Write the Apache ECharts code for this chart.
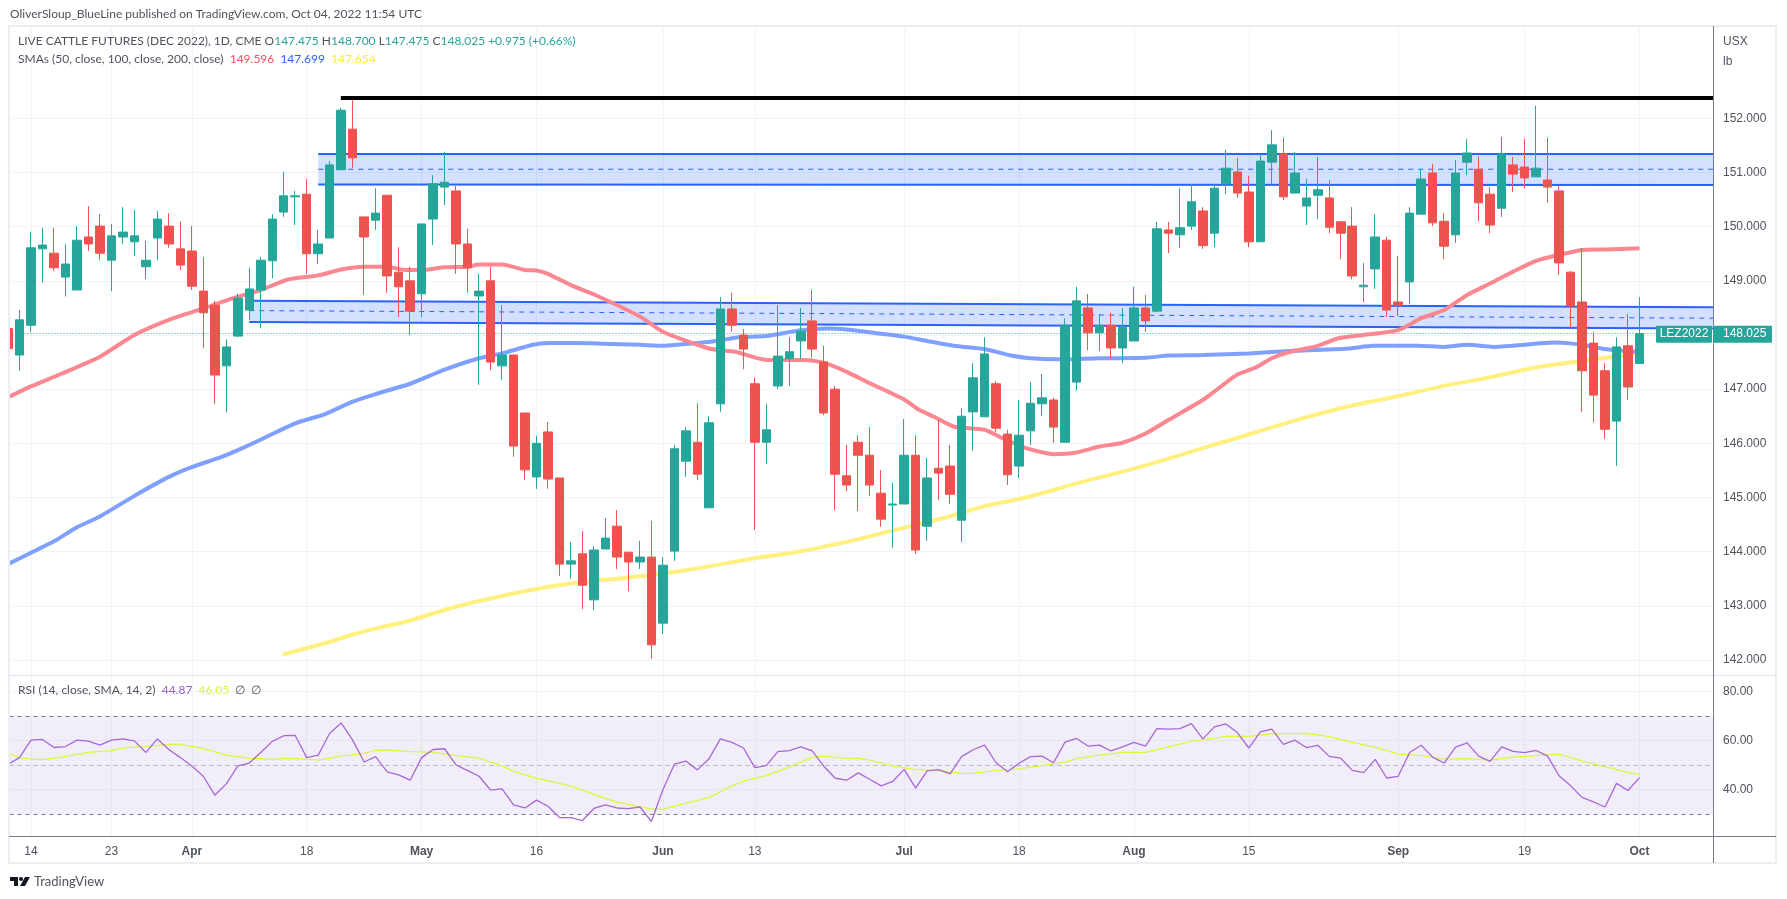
<!DOCTYPE html>
<html>
<head>
<meta charset="utf-8">
<title>LIVE CATTLE FUTURES (DEC 2022)</title>
<script src="https://cdn.jsdelivr.net/npm/echarts@6/dist/echarts.min.js"></script>
<style>
  html, body { margin: 0; padding: 0; background: #fff; }
  #chart { width: 1787px; height: 899px; }
</style>
</head>
<body>
<div id="chart"></div>
<script>
// first bar is the cut-off candle at the left edge, its x index is -1
const opens = [
  148.12, 147.63, 148.18, 149.59, 149.51, 149.07, 148.83, 149.81, 150.01, 149.38,
  149.81, 149.72, 149.26, 149.79, 150.01, 149.59, 149.55, 148.81, 148.55, 147.43,
  147.98, 148.46, 148.83, 149.37, 150.27, 150.55, 150.60, 149.50, 149.79, 151.05,
  151.80, 150.18, 150.12, 150.58, 149.16, 149.00, 148.76, 150.14, 150.73, 150.66,
  149.68, 148.72, 149.00, 147.43, 147.63, 146.56, 145.38, 146.21, 145.36, 143.77,
  143.96, 143.11, 144.05, 144.47, 143.99, 143.81, 143.90, 142.68, 144.01, 145.67,
  146.02, 144.81, 146.73, 148.48, 148.00, 147.10, 146.02, 147.06, 147.56, 147.89,
  148.26, 147.50, 147.00, 145.40, 146.02, 145.78, 145.08, 144.86, 144.88, 145.78,
  144.47, 145.54, 145.58, 144.58, 146.58, 146.49, 147.10, 146.17, 145.58, 146.23,
  146.73, 146.80, 146.02, 147.13, 148.50, 148.04, 148.18, 147.76, 147.89, 148.50,
  148.44, 149.94, 149.85, 150.01, 150.29, 149.88, 150.79, 151.01, 150.64, 149.72,
  151.19, 151.34, 150.62, 150.38, 150.58, 150.53, 150.09, 150.01, 148.89, 149.22,
  149.75, 148.61, 148.98, 150.23, 150.99, 150.10, 149.85, 151.19, 151.06, 150.60,
  150.34, 151.14, 151.10, 150.92, 150.86, 150.66, 149.16, 148.61, 147.85, 147.34,
  146.41, 147.80, 147.475
]
const closes = [
  147.75, 148.28, 149.61, 149.66, 149.24, 149.31, 149.75, 149.68, 149.51, 149.83,
  149.90, 149.83, 149.38, 150.14, 149.68, 149.29, 148.90, 148.41, 147.26, 147.78,
  148.68, 148.85, 149.38, 150.14, 150.57, 150.57, 149.50, 149.68, 151.14, 152.15,
  151.27, 149.81, 150.25, 149.09, 148.89, 148.44, 150.05, 150.79, 150.82, 149.68,
  149.24, 148.81, 147.50, 147.63, 145.95, 145.51, 146.00, 145.34, 143.77, 143.83,
  143.38, 144.03, 144.25, 143.90, 143.81, 143.90, 142.28, 143.75, 145.90, 146.23,
  145.43, 146.38, 148.48, 148.18, 147.74, 146.02, 146.25, 147.61, 147.69, 148.07,
  147.74, 146.56, 145.43, 145.23, 145.78, 145.23, 144.60, 144.88, 145.78, 144.03,
  145.36, 145.45, 145.06, 146.50, 147.21, 147.65, 146.28, 145.42, 146.15, 146.74,
  146.84, 146.30, 148.18, 148.63, 148.04, 148.18, 147.76, 148.15, 148.50, 148.26,
  149.96, 149.88, 149.98, 150.46, 149.65, 150.71, 151.08, 150.62, 149.72, 151.21,
  151.51, 150.55, 150.99, 150.53, 150.68, 149.99, 149.88, 149.09, 148.92, 149.81,
  148.46, 148.55, 150.25, 150.88, 150.07, 149.64, 150.99, 151.36, 150.44, 150.03,
  151.34, 150.97, 150.90, 151.08, 150.73, 149.33, 148.54, 147.34, 146.89, 146.26,
  147.78, 147.04, 148.025
]
const lows = [
  147.75, 147.34, 148.06, 148.97, 149.18, 148.71, 148.83, 149.55, 149.38, 148.81,
  149.68, 149.46, 149.03, 149.38, 149.61, 149.20, 148.83, 147.76, 146.73, 146.57,
  147.96, 148.28, 148.13, 149.05, 150.18, 150.03, 149.13, 149.31, 149.79, 151.05,
  151.08, 148.74, 149.94, 148.78, 148.33, 148.00, 148.33, 149.66, 150.40, 149.13,
  148.78, 147.08, 147.35, 147.17, 145.75, 145.32, 145.16, 145.16, 143.55, 143.50,
  142.94, 142.92, 144.05, 143.68, 143.27, 143.68, 142.02, 142.48, 143.83, 145.38,
  145.32, 144.81, 146.58, 148.06, 147.37, 144.40, 145.62, 147.00, 147.06, 147.56,
  147.58, 146.52, 144.77, 145.12, 144.75, 145.03, 144.46, 144.07, 144.88, 143.96,
  144.20, 144.95, 144.88, 144.18, 145.86, 146.49, 146.21, 145.23, 145.36, 145.97,
  146.50, 146.01, 146.02, 146.98, 147.72, 147.70, 147.56, 147.48, 147.89, 148.06,
  148.42, 149.51, 149.61, 149.94, 149.59, 149.62, 150.60, 150.53, 149.62, 149.72,
  150.79, 150.49, 150.62, 150.03, 150.14, 149.88, 149.40, 149.03, 148.61, 148.85,
  148.33, 148.35, 148.57, 150.23, 150.01, 149.40, 149.70, 150.95, 150.10, 149.88,
  150.18, 150.64, 150.71, 150.92, 150.44, 149.11, 148.13, 146.58, 146.39, 146.08,
  145.58, 146.80, 147.475
]
const highs = [
  148.12, 148.46, 149.91, 149.98, 149.98, 149.68, 150.01, 150.38, 150.23, 150.05,
  150.36, 150.31, 149.74, 150.29, 150.25, 150.10, 150.01, 149.44, 148.63, 147.92,
  148.76, 149.24, 149.44, 150.23, 151.01, 150.66, 150.88, 149.94, 151.21, 152.19,
  152.39, 150.18, 150.71, 150.58, 149.62, 149.26, 150.05, 150.95, 151.38, 150.75,
  149.96, 149.13, 149.26, 148.55, 147.63, 146.56, 146.14, 146.39, 145.36, 144.18,
  144.38, 144.10, 144.62, 144.77, 143.99, 144.20, 144.57, 143.90, 145.97, 146.30,
  146.74, 146.50, 148.70, 148.78, 148.11, 147.21, 146.73, 148.55, 147.96, 148.50,
  148.83, 147.80, 147.06, 145.97, 146.15, 146.30, 145.51, 145.27, 146.45, 146.15,
  145.73, 146.43, 145.97, 146.65, 147.48, 147.96, 147.15, 146.25, 146.80, 147.13,
  147.28, 146.84, 148.31, 148.89, 148.76, 148.39, 148.41, 148.50, 148.89, 148.74,
  150.09, 150.09, 150.71, 150.79, 150.36, 150.79, 151.42, 151.27, 150.94, 151.34,
  151.78, 151.64, 151.38, 150.88, 151.29, 150.86, 150.10, 150.36, 149.33, 150.23,
  149.81, 149.46, 150.36, 151.06, 151.16, 150.25, 151.23, 151.62, 151.30, 150.73,
  151.66, 151.29, 151.62, 152.23, 151.64, 150.75, 149.18, 149.61, 148.06, 147.48,
  147.96, 148.39, 148.70
]

const sma50Bars = [-1, 1, 3.6, 7, 10, 13, 16, 18.6, 21, 23.3, 26, 28, 30, 32, 33.6, 35, 37, 39, 40, 42, 44, 45, 46, 48, 50.3, 54, 56, 60, 62.3, 65, 68.3, 70, 72, 74, 77, 78.3, 79.6, 81.3, 84, 85.6, 87.6, 90, 92, 94, 96, 98, 100, 103, 103.9, 106, 107.6, 109, 110.6, 113, 114.8, 117, 120, 122, 124, 126, 128, 130, 132, 134, 136, 138, 141]
const sma50Values = [146.85, 147.05, 147.28, 147.60, 148.00, 148.28, 148.49, 148.68, 148.83, 149.02, 149.10, 149.21, 149.26, 149.26, 149.20, 149.20, 149.25, 149.26, 149.30, 149.30, 149.20, 149.19, 149.13, 148.92, 148.72, 148.34, 148.06, 147.75, 147.69, 147.54, 147.54, 147.49, 147.32, 147.11, 146.81, 146.62, 146.49, 146.31, 146.25, 146.09, 145.91, 145.80, 145.83, 145.94, 146.01, 146.18, 146.43, 146.80, 146.94, 147.27, 147.40, 147.57, 147.69, 147.80, 147.94, 148.00, 148.09, 148.31, 148.46, 148.74, 148.95, 149.17, 149.37, 149.48, 149.57, 149.58, 149.60]
const sma100Bars = [-1, 1, 3, 5, 7, 10, 13, 15, 17.6, 19.6, 21.6, 24, 26.6, 29, 31, 34, 37, 40, 42, 44.7, 46, 48.4, 50.6, 54, 56, 57.3, 60.3, 62.6, 65, 68, 70.4, 72, 74, 77, 79, 81.3, 84, 86.3, 88, 90.3, 94, 98, 100, 103, 107, 111, 115.8, 117.8, 121.7, 124, 126, 128.3, 131, 133.5, 134.8, 136.5, 138, 140, 141]
const sma100Values = [143.77, 143.98, 144.19, 144.45, 144.65, 145.03, 145.38, 145.56, 145.75, 145.93, 146.13, 146.37, 146.54, 146.77, 146.91, 147.10, 147.36, 147.57, 147.66, 147.82, 147.85, 147.85, 147.84, 147.82, 147.80, 147.82, 147.88, 147.96, 147.98, 148.09, 148.12, 148.10, 148.05, 147.97, 147.89, 147.80, 147.74, 147.62, 147.57, 147.55, 147.57, 147.58, 147.62, 147.63, 147.66, 147.71, 147.75, 147.80, 147.80, 147.78, 147.82, 147.78, 147.82, 147.86, 147.85, 147.80, 147.74, 147.70, 147.69]
const sma200Bars = [22.9, 26.6, 29, 31, 34, 37.6, 40, 45, 48.3, 50.6, 55, 59, 64, 67.3, 72, 76, 80.6, 84, 87.6, 92, 97.5, 103, 106.6, 111, 115.6, 120, 124, 128, 132, 136, 141]
const sma200Values = [142.10, 142.31, 142.47, 142.58, 142.73, 142.96, 143.09, 143.31, 143.42, 143.47, 143.57, 143.69, 143.88, 143.98, 144.18, 144.39, 144.63, 144.84, 145.00, 145.26, 145.56, 145.91, 146.14, 146.42, 146.68, 146.87, 147.06, 147.22, 147.40, 147.52, 147.66]

const rsiValues = [
  50.3, 53.0, 60.1, 60.4, 57.1, 57.5, 60.1, 59.7, 58.1, 60.1,
  60.6, 59.8, 55.1, 60.6, 56.3, 53.0, 49.6, 45.4, 37.7, 42.3,
  49.6, 50.8, 55.1, 59.6, 61.9, 62.0, 53.0, 54.0, 62.9, 67.1,
  60.1, 51.2, 53.4, 47.2, 46.0, 43.8, 53.0, 56.3, 56.6, 50.0,
  47.7, 45.4, 39.8, 40.3, 33.8, 32.5, 35.7, 33.2, 28.6, 28.6,
  27.4, 32.3, 33.8, 32.5, 32.2, 32.9, 27.0, 39.9, 50.3, 51.6,
  48.0, 52.4, 60.6, 59.2, 57.0, 48.9, 49.7, 55.4, 55.8, 57.4,
  55.7, 49.5, 44.6, 43.8, 46.8, 44.2, 41.5, 43.3, 48.2, 40.6,
  47.6, 48.1, 46.4, 53.4, 56.2, 58.1, 50.9, 47.2, 50.7, 53.4,
  53.6, 50.9, 59.3, 60.8, 57.7, 58.1, 55.7, 57.4, 59.2, 57.7,
  64.8, 64.6, 64.8, 66.8, 60.6, 65.5, 66.7, 63.2, 56.9, 63.5,
  64.6, 58.4, 60.1, 57.1, 58.0, 53.5, 52.8, 47.8, 46.9, 52.3,
  44.7, 45.4, 55.1, 58.0, 53.2, 50.8, 57.3, 59.0, 53.6, 51.5,
  57.4, 55.5, 55.0, 55.9, 53.6, 45.6, 41.6, 36.8, 35.0, 32.9,
  42.5, 39.6, 44.87
]
const rsiMaBars = [-1, 0, 1, 2, 4, 6, 8, 9, 11, 13, 14, 16, 18, 20, 22, 24, 26, 28, 30, 31, 32, 34, 36, 38, 40, 42, 43, 45, 48, 50, 52, 54, 55, 56, 58, 60, 62, 63, 65, 67, 69, 70, 72, 73, 74, 76, 78, 80, 82, 83, 85, 87, 89, 91, 92, 94, 96, 98, 100, 102, 103, 105, 107, 109, 111, 112, 114, 116, 118, 120, 122, 124, 126, 128, 130, 132, 134, 136, 138, 139, 140, 141]
const rsiMaValues = [54.6, 53.1, 52.4, 52.2, 53.4, 55.1, 55.8, 57.0, 57.5, 58.4, 58.4, 56.7, 54.0, 52.7, 52.4, 52.7, 52.0, 53.6, 54.7, 55.9, 56.1, 55.4, 55.1, 53.9, 52.8, 49.6, 47.4, 44.6, 41.4, 38.0, 34.9, 33.0, 32.1, 31.9, 34.5, 36.7, 41.5, 43.4, 45.7, 49.1, 53.1, 53.6, 52.7, 52.7, 52.0, 49.5, 48.2, 47.7, 46.6, 46.6, 47.7, 48.4, 49.7, 51.2, 52.6, 54.0, 55.1, 55.1, 57.4, 59.6, 60.2, 61.6, 61.6, 62.7, 62.8, 62.8, 61.5, 59.2, 57.3, 54.4, 53.8, 52.4, 52.6, 52.0, 53.2, 53.8, 54.4, 51.6, 49.2, 48.2, 46.9, 46.2]

const tickBars = [1, 8, 15, 25, 35, 45, 56, 64, 77, 87, 97, 107, 120, 131, 141]
const tickLabels = ['14', '23', 'Apr', '18', 'May', '16', 'Jun', '13', 'Jul', '18', 'Aug', '15', 'Sep', '19', 'Oct']
const monthLabels = ['Apr', 'May', 'Jun', 'Jul', 'Aug', 'Sep', 'Oct']
const priceTicks = [142, 143, 144, 145, 146, 147, 148, 149, 150, 151, 152]
const rsiTicks = [40, 60, 80]
const rsiLevels = [70, 50, 30]

// hand drawn zones: [start bar, end bar, top, top, mid, mid, bottom, bottom]
const zoneBars = [[26, 147.4], [20, 147.4]]
const zoneTops = [[151.34, 151.34], [148.63, 148.51]]
const zoneMids = [[151.06, 151.06], [148.45, 148.31]]
const zoneBottoms = [[150.78, 150.77], [148.24, 148.12]]
const topLineBars = [27.97, 147.4]
const topLinePrice = 152.375

const lastPrice = 148.025
const symbol = 'LEZ2022'

const UP = '#26a69a'
const DOWN = '#ef5350'
const TEXT = '#50535e'
const BLUE = '#2962ff'
const FONT = 'Lato, "Liberation Sans", sans-serif'
const AXIS_FONT = '"Liberation Sans", sans-serif'
const GRID_LINE = '#f0f3fa'

const xMin = -0.87
const xMax = 147.4

function pairs(bars, values) {
  return bars.map((bar, i) => [bar, values[i]])
}

function candleData() {
  return opens.map((open, i) => [i - 1, open, closes[i], lows[i], highs[i]])
}

function renderZone(params, api) {
  const x0 = api.value(0)
  const x1 = api.value(1)
  const top0 = api.coord([x0, api.value(2)])
  const top1 = api.coord([x1, api.value(3)])
  const mid0 = api.coord([x0, api.value(4)])
  const mid1 = api.coord([x1, api.value(5)])
  const bot0 = api.coord([x0, api.value(6)])
  const bot1 = api.coord([x1, api.value(7)])
  const edge = (a, b, style) => ({
    type: 'line',
    shape: { x1: a[0], y1: a[1], x2: b[0], y2: b[1] },
    style: Object.assign({ stroke: BLUE, lineWidth: 2 }, style)
  })
  return {
    type: 'group',
    children: [
      {
        type: 'polygon',
        shape: { points: [top0, top1, bot1, bot0] },
        style: { fill: 'rgba(41, 98, 255, 0.2)' }
      },
      edge(top0, top1, {}),
      edge(bot0, bot1, {}),
      edge(mid0, mid1, { lineWidth: 1, lineDash: [5, 5] })
    ]
  }
}

function xAxisBase(gridIndex) {
  return {
    type: 'value',
    gridIndex,
    min: xMin,
    max: xMax,
    axisLine: { show: false },
    axisTick: { show: false, customValues: tickBars },
    splitLine: { show: true, lineStyle: { color: GRID_LINE, width: 1 } }
  }
}

function smaSeries(name, color, bars, values) {
  return {
    name,
    type: 'line',
    xAxisIndex: 0,
    yAxisIndex: 0,
    data: pairs(bars, values),
    showSymbol: false,
    smooth: 0.2,
    silent: true,
    z: 3,
    lineStyle: { color, width: 4, cap: 'butt' }
  }
}

function legendText(x, y, text, rich) {
  return {
    type: 'text',
    x,
    y,
    z: 100,
    style: { text, rich, font: '12px ' + FONT, fill: TEXT }
  }
}

const richBase = { fontFamily: 'Lato', fontSize: 12 }
const legendRich = {
  t: Object.assign({ fill: TEXT }, richBase),
  g: Object.assign({ fill: UP }, richBase),
  r: Object.assign({ fill: '#f7525f' }, richBase),
  b: Object.assign({ fill: BLUE }, richBase),
  y: Object.assign({ fill: '#ffeb3b' }, richBase),
  p: Object.assign({ fill: '#9c5fd0' }, richBase),
  l: Object.assign({ fill: '#d6f53a' }, richBase)
}

const chart = echarts.init(document.getElementById('chart'), null, { width: 1787, height: 899 })

chart.setOption({
  animation: false,
  backgroundColor: '#fff',
  grid: [
    { left: 9.5, top: 27, width: 1703.5, height: 648 },
    { left: 9.5, top: 676, width: 1703.5, height: 160 }
  ],
  xAxis: [
    Object.assign(xAxisBase(0), { axisLabel: { show: false, customValues: tickBars } }),
    Object.assign(xAxisBase(1), {
      axisLabel: {
        customValues: tickBars,
        margin: 10,
        color: TEXT,
        fontFamily: AXIS_FONT,
        fontSize: 12,
        formatter: (value) => {
          const label = tickLabels[tickBars.indexOf(value)]
          return monthLabels.includes(label) ? `{m|${label}}` : label
        },
        rich: { m: { fontFamily: AXIS_FONT, fontSize: 12, fontWeight: 'bold', color: TEXT } }
      }
    })
  ],
  yAxis: [
    {
      type: 'value',
      gridIndex: 0,
      position: 'right',
      min: 141.723,
      max: 153.686,
      axisLine: { show: false },
      axisTick: { show: false, customValues: priceTicks },
      splitLine: { show: true, lineStyle: { color: GRID_LINE, width: 1 } },
      axisLabel: {
        customValues: priceTicks,
        margin: 10,
        color: TEXT,
        fontFamily: AXIS_FONT,
        fontSize: 12,
        formatter: (value) => value.toFixed(3)
      }
    },
    {
      type: 'value',
      gridIndex: 1,
      position: 'right',
      min: 21.1,
      max: 86.2,
      axisLine: { show: false },
      axisTick: { show: false, customValues: rsiTicks },
      splitLine: { show: true, lineStyle: { color: GRID_LINE, width: 1 } },
      axisLabel: {
        customValues: rsiTicks,
        margin: 10,
        color: TEXT,
        fontFamily: AXIS_FONT,
        fontSize: 12,
        formatter: (value) => value.toFixed(2)
      }
    }
  ],
  series: [
    {
      name: 'Zones',
      type: 'custom',
      xAxisIndex: 0,
      yAxisIndex: 0,
      z: 2,
      silent: true,
      renderItem: renderZone,
      data: zoneBars.map((bars, i) => [
        bars[0], bars[1],
        zoneTops[i][0], zoneTops[i][1],
        zoneMids[i][0], zoneMids[i][1],
        zoneBottoms[i][0], zoneBottoms[i][1]
      ])
    },
    smaSeries('SMA 200', '#fff07f', sma200Bars, sma200Values),
    smaSeries('SMA 100', '#7fa0ff', sma100Bars, sma100Values),
    smaSeries('SMA 50', '#fb8790', sma50Bars, sma50Values),
    {
      name: 'LEZ2022',
      type: 'candlestick',
      xAxisIndex: 0,
      yAxisIndex: 0,
      barWidth: 9,
      z: 5,
      encode: { x: 0, y: [1, 2, 3, 4] },
      data: candleData(),
      itemStyle: {
        color: UP,
        color0: DOWN,
        borderColor: UP,
        borderColor0: DOWN,
        borderWidth: 1
      },
      markLine: {
        silent: true,
        symbol: 'none',
        z: 3,
        label: { show: false },
        lineStyle: { color: UP, type: [1, 2], width: 1 },
        data: [{ yAxis: lastPrice }]
      }
    },
    {
      name: 'Top line',
      type: 'line',
      xAxisIndex: 0,
      yAxisIndex: 0,
      z: 6,
      showSymbol: false,
      silent: true,
      lineStyle: { color: '#000', width: 4, cap: 'butt' },
      data: topLineBars.map((bar) => [bar, topLinePrice])
    },
    {
      name: 'RSI MA',
      type: 'line',
      xAxisIndex: 1,
      yAxisIndex: 1,
      z: 4,
      showSymbol: false,
      silent: true,
      lineStyle: { color: '#dcf73e', width: 1.3 },
      data: pairs(rsiMaBars, rsiMaValues)
    },
    {
      name: 'RSI',
      type: 'line',
      xAxisIndex: 1,
      yAxisIndex: 1,
      z: 5,
      showSymbol: false,
      silent: true,
      lineStyle: { color: '#a668d6', width: 1.3 },
      data: rsiValues.map((value, i) => [i - 1, value]),
      markArea: {
        silent: true,
        z: 1,
        itemStyle: { color: 'rgba(126, 87, 194, 0.1)' },
        data: [[{ yAxis: rsiLevels[0] }, { yAxis: rsiLevels[2] }]]
      },
      markLine: {
        silent: true,
        symbol: 'none',
        z: 2,
        label: { show: false },
        lineStyle: { color: '#787b86', type: [4, 4], width: 1 },
        data: [
          { yAxis: rsiLevels[0] },
          { yAxis: rsiLevels[1], lineStyle: { opacity: 0.5 } },
          { yAxis: rsiLevels[2] }
        ]
      }
    }
  ]
})

// frame, texts and last price flags go on top, the flags take their y from the price axis
const lastY = chart.convertToPixel({ yAxisIndex: 0 }, lastPrice)

chart.setOption({
  graphic: [
    // candlestick does not clip a half visible box, so mask the left margin
    { type: 'rect', z: 89, shape: { x: 0, y: 27, width: 9, height: 648 }, style: { fill: '#fff' } },
    { type: 'rect', z: 90, shape: { x: 9, y: 26, width: 1767, height: 837 }, style: { fill: 'none', stroke: '#eceef3', lineWidth: 2 } },
    { type: 'line', z: 91, shape: { x1: 9, y1: 675.5, x2: 1776, y2: 675.5 }, style: { stroke: '#e0e3eb', lineWidth: 1 } },
    { type: 'line', z: 91, shape: { x1: 9, y1: 836.5, x2: 1776, y2: 836.5 }, style: { stroke: '#787b86', lineWidth: 1 } },
    { type: 'line', z: 91, shape: { x1: 1713.5, y1: 26, x2: 1713.5, y2: 863 }, style: { stroke: '#787b86', lineWidth: 1 } },

    { type: 'text', z: 100, x: 10, y: 8, style: { text: 'OliverSloup_BlueLine published on TradingView.com, Oct 04, 2022 11:54 UTC', font: '12px ' + FONT, fill: TEXT } },
    legendText(18, 35, '{t|LIVE CATTLE FUTURES (DEC 2022), 1D, CME O}{g|147.475}{t| H}{g|148.700}{t| L}{g|147.475}{t| C}{g|148.025}{g| +0.975 (+0.66%)}', legendRich),
    legendText(18, 53, '{t|SMAs (50, close, 100, close, 200, close)  }{r|149.596}{t|  }{b|147.699}{t|  }{y|147.654}', legendRich),
    legendText(18, 684, '{t|RSI (14, close, SMA, 14, 2)  }{p|44.87}{t|  }{l|46.05}{t|  ∅  ∅}', legendRich),
    { type: 'text', z: 100, x: 1723, y: 36, style: { text: 'USX', font: '12px ' + AXIS_FONT, fill: TEXT } },
    { type: 'text', z: 100, x: 1723, y: 56, style: { text: 'lb', font: '12px ' + AXIS_FONT, fill: TEXT } },

    { type: 'rect', z: 95, shape: { x: 1656, y: lastY - 8, width: 56, height: 17, r: 1 }, style: { fill: UP } },
    { type: 'text', z: 96, x: 1684, y: lastY + 0.5, style: { text: symbol, font: '12px ' + AXIS_FONT, fill: '#fff', align: 'center', verticalAlign: 'middle' } },
    { type: 'rect', z: 95, shape: { x: 1713, y: lastY - 8, width: 59, height: 17, r: 1 }, style: { fill: UP } },
    { type: 'text', z: 96, x: 1723, y: lastY + 0.5, style: { text: lastPrice.toFixed(3), font: '12px ' + AXIS_FONT, fill: '#fff', verticalAlign: 'middle' } },

    // TradingView mark
    { type: 'polygon', z: 100, shape: { points: [[10, 877], [18, 877], [18, 886], [14, 886], [14, 881], [10, 881]] }, style: { fill: '#131722' } },
    { type: 'circle', z: 100, shape: { cx: 21, cy: 879, r: 2 }, style: { fill: '#131722' } },
    { type: 'polygon', z: 100, shape: { points: [[25, 877], [30, 877], [25, 886], [20, 886]] }, style: { fill: '#131722' } },
    { type: 'text', z: 100, x: 34, y: 875, style: { text: 'TradingView', font: '13px ' + FONT, fill: TEXT } }
  ]
})
</script>
</body>
</html>
